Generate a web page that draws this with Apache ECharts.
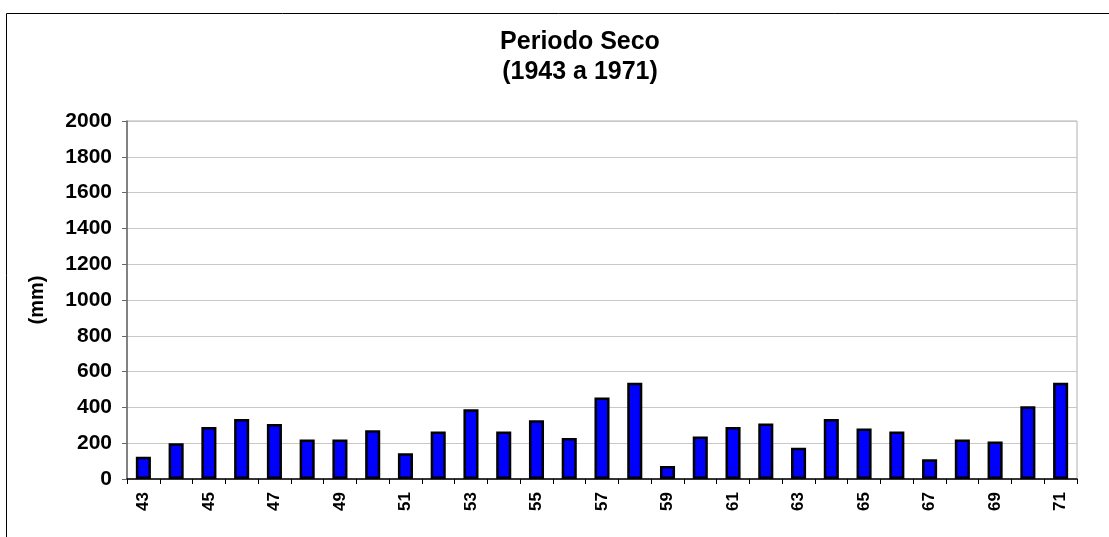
<!DOCTYPE html>
<html>
<head>
<meta charset="utf-8">
<script src="https://cdn.jsdelivr.net/npm/echarts@6/dist/echarts.min.js"></script>
<style>
html,body{margin:0;padding:0;background:#fff;}
#c{width:1109px;height:537px;}
</style>
</head>
<body>
<div id="c"></div>
<script>
const categories = ['43','44','45','46','47','48','49','50','51','52','53','54','55','56','57','58','59','60','61','62','63','64','65','66','67','68','69','70','71'];
const rainfall = [125,200,290,335,307,220,220,273,144,265,390,265,328,229,456,538,73,238,290,310,175,335,282,265,110,220,210,407,538];
const titleLines = ['Periodo Seco', '(1943 a 1971)'];
const yAxisName = '(mm)';

const chart = echarts.init(document.getElementById('c'), null, {renderer: 'canvas'});
const font = 'Liberation Sans, Arial, sans-serif';
chart.setOption({
  animation: false,
  backgroundColor: '#fff',
  title: {
    text: titleLines.join('\n'),
    left: 575,
    textAlign: 'center',
    top: 22,
    textStyle: {fontFamily: font, fontWeight: 'bold', fontSize: 25, lineHeight: 30, color: '#000'}
  },
  graphic: [{
    type: 'rect', left: 4, top: 11, silent: true,
    shape: {width: 1120, height: 540},
    style: {fill: 'none', stroke: '#000', lineWidth: 1}
  }],
  grid: {left: 127, right: 32, top: 121, bottom: 58, show: true, borderColor: '#b0b0b0', borderWidth: 1},
  xAxis: {
    type: 'category',
    data: categories,
    axisLine: {lineStyle: {color: '#000', width: 1.5}},
    axisTick: {show: true, interval: 0, length: 5, lineStyle: {color: '#000'}},
    axisLabel: {interval: 1, rotate: 90, fontFamily: font, fontWeight: 'bold', fontSize: 17, color: '#000', margin: 13}
  },
  yAxis: {
    type: 'value',
    min: 0, max: 2000, interval: 200,
    name: yAxisName,
    nameLocation: 'middle',
    nameGap: 80,
    nameTextStyle: {fontFamily: font, fontWeight: 'bold', fontSize: 20, color: '#000'},
    axisLine: {show: true, lineStyle: {color: '#666', width: 1.5}},
    axisTick: {show: true, length: 5, lineStyle: {color: '#666'}},
    axisLabel: {fontFamily: font, fontWeight: 'bold', fontSize: 21, color: '#000', margin: 15, formatter: v => String(v)},
    splitLine: {lineStyle: {color: '#c8c8c8', width: 1}}
  },
  series: [{
    type: 'bar',
    data: rainfall,
    barWidth: '46%',
    itemStyle: {color: '#0000ff', borderColor: '#000', borderWidth: 2.5}
  }]
});
</script>
</body>
</html>
